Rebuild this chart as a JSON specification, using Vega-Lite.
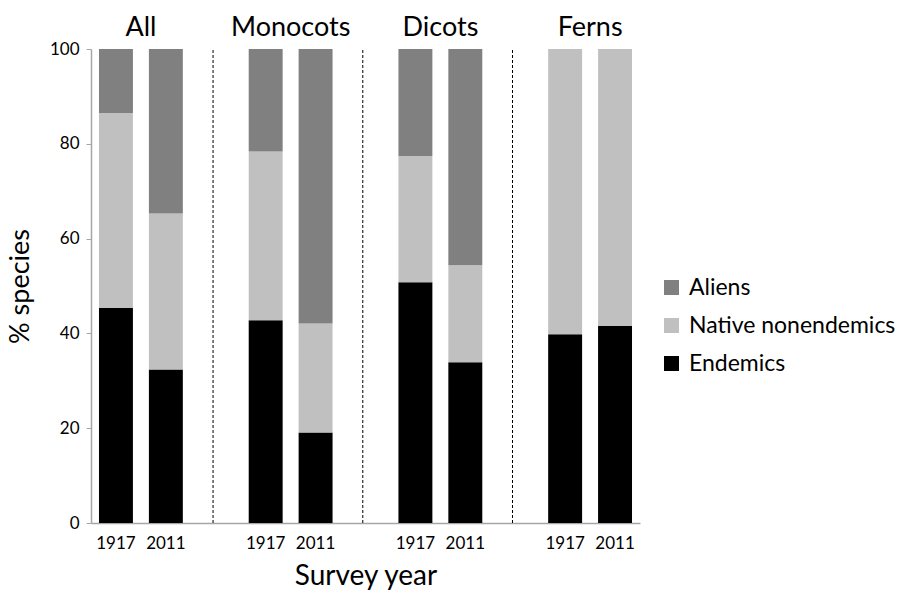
{
  "$schema": "https://vega.github.io/schema/vega-lite/v6.json",
  "width": 549,
  "height": 474,
  "autosize": {"type": "none"},
  "padding": {"left": 91, "top": 49, "right": 259, "bottom": 68},
  "background": "white",
  "config": {
    "font": "Lato",
    "view": {"stroke": null},
    "axis": {"labelColor": "#000000", "titleColor": "#000000", "titleFontWeight": "normal", "grid": false}
  },
  "datasets": {
    "bars": [
      {"slot": "All 1917", "category": "Endemics", "ord": 1, "value": 45.4},
      {"slot": "All 1917", "category": "Native nonendemics", "ord": 2, "value": 41.1},
      {"slot": "All 1917", "category": "Aliens", "ord": 3, "value": 13.5},
      {"slot": "All 2011", "category": "Endemics", "ord": 1, "value": 32.4},
      {"slot": "All 2011", "category": "Native nonendemics", "ord": 2, "value": 32.9},
      {"slot": "All 2011", "category": "Aliens", "ord": 3, "value": 34.7},
      {"slot": "Monocots 1917", "category": "Endemics", "ord": 1, "value": 42.8},
      {"slot": "Monocots 1917", "category": "Native nonendemics", "ord": 2, "value": 35.6},
      {"slot": "Monocots 1917", "category": "Aliens", "ord": 3, "value": 21.6},
      {"slot": "Monocots 2011", "category": "Endemics", "ord": 1, "value": 19.1},
      {"slot": "Monocots 2011", "category": "Native nonendemics", "ord": 2, "value": 23.0},
      {"slot": "Monocots 2011", "category": "Aliens", "ord": 3, "value": 57.9},
      {"slot": "Dicots 1917", "category": "Endemics", "ord": 1, "value": 50.8},
      {"slot": "Dicots 1917", "category": "Native nonendemics", "ord": 2, "value": 26.6},
      {"slot": "Dicots 1917", "category": "Aliens", "ord": 3, "value": 22.6},
      {"slot": "Dicots 2011", "category": "Endemics", "ord": 1, "value": 33.9},
      {"slot": "Dicots 2011", "category": "Native nonendemics", "ord": 2, "value": 20.5},
      {"slot": "Dicots 2011", "category": "Aliens", "ord": 3, "value": 45.6},
      {"slot": "Ferns 1917", "category": "Endemics", "ord": 1, "value": 39.8},
      {"slot": "Ferns 1917", "category": "Native nonendemics", "ord": 2, "value": 60.2},
      {"slot": "Ferns 1917", "category": "Aliens", "ord": 3, "value": 0},
      {"slot": "Ferns 2011", "category": "Endemics", "ord": 1, "value": 41.6},
      {"slot": "Ferns 2011", "category": "Native nonendemics", "ord": 2, "value": 58.4},
      {"slot": "Ferns 2011", "category": "Aliens", "ord": 3, "value": 0}
    ],
    "seps": [{"slot": "sep1"}, {"slot": "sep2"}, {"slot": "sep3"}],
    "groups": [
      {"slot": "All 1917", "name": "All"},
      {"slot": "Monocots 1917", "name": "Monocots"},
      {"slot": "Dicots 1917", "name": "Dicots"},
      {"slot": "Ferns 1917", "name": "Ferns"}
    ]
  },
  "encoding": {
    "x": {
      "field": "slot",
      "type": "nominal",
      "sort": ["All 1917", "All 2011", "sep1", "Monocots 1917", "Monocots 2011", "sep2", "Dicots 1917", "Dicots 2011", "sep3", "Ferns 1917", "Ferns 2011"],
      "scale": {
        "domain": ["All 1917", "All 2011", "sep1", "Monocots 1917", "Monocots 2011", "sep2", "Dicots 1917", "Dicots 2011", "sep3", "Ferns 1917", "Ferns 2011"],
        "paddingInner": 0.32,
        "paddingOuter": 0.16
      },
      "axis": {
        "title": "Survey year",
        "titleFontSize": 28,
        "titlePadding": 11,
        "labelFontSize": 17,
        "labelAngle": 0,
        "labelPadding": 12,
        "ticks": false,
        "domainColor": "#a6a6a6",
        "domainWidth": 1.5,
        "labelExpr": "indexof(datum.label, 'sep') >= 0 ? '' : slice(datum.label, -4)"
      }
    }
  },
  "layer": [
    {
      "data": {"name": "bars"},
      "mark": {"type": "bar"},
      "encoding": {
        "y": {
          "field": "value",
          "type": "quantitative",
          "stack": "zero",
          "scale": {"domain": [0, 100], "nice": false},
          "axis": {
            "title": "% species",
            "titleFontSize": 27,
            "titlePadding": 15,
            "labelFontSize": 17,
            "labelPadding": 7,
            "tickSize": 5,
            "tickColor": "#a6a6a6",
            "domainColor": "#a6a6a6",
            "domainWidth": 1.5,
            "values": [0, 20, 40, 60, 80, 100]
          }
        },
        "color": {
          "field": "category",
          "type": "nominal",
          "scale": {
            "domain": ["Aliens", "Native nonendemics", "Endemics"],
            "range": ["#808080", "#c0c0c0", "#000000"]
          },
          "legend": {
            "title": null,
            "orient": "none",
            "legendX": 569,
            "legendY": 227,
            "symbolType": "square",
            "symbolSize": 225,
            "symbolStrokeWidth": 0,
            "labelFontSize": 23,
            "labelLimit": 400,
            "labelColor": "#000000",
            "rowPadding": 14,
            "labelOffset": 6
          }
        },
        "order": {"field": "ord", "type": "quantitative", "sort": "ascending"}
      }
    },
    {
      "data": {"name": "seps"},
      "mark": {"type": "rule", "color": "#000000", "strokeWidth": 1, "strokeDash": [3, 2]},
      "encoding": {
        "x": {"field": "slot", "type": "nominal", "bandPosition": 0.42},
        "y": {"datum": 0, "type": "quantitative"},
        "y2": {"datum": 100}
      }
    },
    {
      "data": {"name": "groups"},
      "mark": {"type": "text", "fontSize": 27, "color": "#000000", "baseline": "alphabetic", "align": "center", "dx": 25, "dy": -13},
      "encoding": {
        "x": {"field": "slot", "type": "nominal", "bandPosition": 0.5},
        "y": {"datum": 100, "type": "quantitative"},
        "text": {"field": "name"}
      }
    }
  ]
}
